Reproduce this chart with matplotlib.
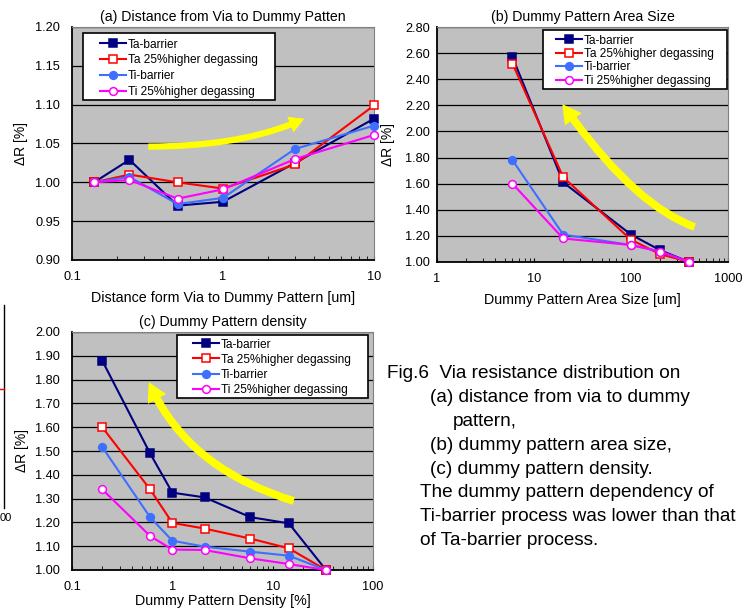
import numpy as np
import matplotlib
matplotlib.use('Agg')
import matplotlib.pyplot as plt
from matplotlib.patches import FancyArrowPatch, Rectangle
from matplotlib.lines import Line2D
from matplotlib.ticker import LogLocator, FixedLocator, NullFormatter

plt.rcParams['font.family'] = ['Liberation Sans', 'DejaVu Sans']

# ---------------------------------------------------------------- data
series_names = ['Ta-barrier', 'Ta 25%higher degassing', 'Ti-barrier', 'Ti 25%higher degassing']

# (a) distance from via to dummy pattern [um]
dist_x = [0.14, 0.24, 0.5, 1, 3, 10]
dist_ta = [1.000, 1.029, 0.970, 0.975, 1.025, 1.082]
dist_ta25 = [1.000, 1.010, 1.000, 0.992, 1.023, 1.099]
dist_ti = [1.000, 1.007, 0.972, 0.980, 1.043, 1.073]
dist_ti25 = [1.000, 1.003, 0.979, 0.991, 1.030, 1.061]

# (b) dummy pattern area size [um]
area_x = [6, 20, 100, 200, 400]
area_ta = [2.57, 1.61, 1.21, 1.09, 1.00]
area_ta25 = [2.52, 1.65, 1.17, 1.06, 1.00]
area_ti = [1.78, 1.21, 1.13, 1.08, 1.00]
area_ti25 = [1.60, 1.18, 1.13, 1.08, 1.00]

# (c) dummy pattern density [%]
dens_x = [0.2, 0.6, 1, 2.1, 6, 14.5, 34]
dens_ta = [1.88, 1.49, 1.325, 1.305, 1.222, 1.196, 1.00]
dens_ta25 = [1.60, 1.339, 1.198, 1.174, 1.132, 1.091, 1.00]
dens_ti = [1.517, 1.222, 1.123, 1.098, 1.077, 1.06, 1.00]
dens_ti25 = [1.339, 1.143, 1.086, 1.084, 1.049, 1.025, 1.00]

caption_lines = [
    'Fig.6  Via resistance distribution on',
    '(a) distance from via to dummy',
    'pattern,',
    '(b) dummy pattern area size,',
    '(c) dummy pattern density.',
    'The dummy pattern dependency of',
    'Ti-barrier process was lower than that',
    'of Ta-barrier process.',
]

# ---------------------------------------------------------------- styles
styles = [
    dict(color='#000080', marker='s', mfc='#000080', mec='#000080', ms=5.8),
    dict(color='#FF0000', marker='s', mfc='white', mec='#FF0000', ms=5.8),
    dict(color='#3F6FFF', marker='o', mfc='#3F6FFF', mec='#3F6FFF', ms=5.6),
    dict(color='#FF00FF', marker='o', mfc='white', mec='#FF00FF', ms=5.6),
]

W, H = 755, 614
fig = plt.figure(figsize=(W / 100, H / 100), dpi=100)


def px2ax(ax, x, y):
    # figure pixel (from top-left) -> axes fraction
    p = ax.get_position()
    return ((x / W - p.x0) / p.width, (1 - y / H - p.y0) / p.height)


def setup_axes(rect, xlim, ylim, yticks, title, xlabel, xticklabels,
               xlabelpad, ypad, ylabelpad):
    ax = fig.add_axes(rect)
    ax.set_facecolor('#C0C0C0')
    ax.set_xscale('log')
    ax.set_xlim(*xlim)
    ax.set_ylim(*ylim)
    ax.set_yticks(yticks)
    ax.set_yticklabels(['{:.2f}'.format(v) for v in yticks], fontsize=9.2)
    ax.xaxis.set_major_locator(FixedLocator([t for t, _ in xticklabels]))
    ax.set_xticklabels([l for _, l in xticklabels], fontsize=9.2)
    ax.xaxis.set_minor_locator(LogLocator(base=10, subs=np.arange(2, 10)))
    ax.xaxis.set_minor_formatter(NullFormatter())
    ax.tick_params(axis='x', which='both', direction='in', length=3, pad=8)
    ax.tick_params(axis='y', which='major', length=0, pad=ypad)
    for y in yticks:
        ax.axhline(y, color='black', lw=0.9, zorder=1)
    for s in ['top', 'right']:
        ax.spines[s].set_color('#808080')
    for s in ['left', 'bottom']:
        ax.spines[s].set_color('black')
        ax.spines[s].set_linewidth(1.3)
    ax.set_title(title, fontsize=10.2, pad=4)
    ax.set_xlabel(xlabel, fontsize=10.3, labelpad=xlabelpad)
    ax.set_ylabel('ΔR [%]', fontsize=10, labelpad=ylabelpad)
    return ax


def plot_series(ax, x, ys, box, handle_xy, spacing):
    for name, y, st in zip(series_names, ys, styles):
        ax.plot(x, y, label=name, lw=1.5, mew=1.1, zorder=3,
                clip_on=False, **st)
    # white legend box with the reference's proportions
    x0, y0 = px2ax(ax, box[0], box[3])
    x1, y1 = px2ax(ax, box[1], box[2])
    ax.add_patch(Rectangle((x0, y0), x1 - x0, y1 - y0, transform=ax.transAxes,
                           facecolor='white', edgecolor='black', lw=1.2,
                           zorder=4, clip_on=False))
    leg = ax.legend(loc='upper left', bbox_to_anchor=px2ax(ax, *handle_xy),
                    fontsize=8.6, frameon=False, handlelength=2.2,
                    handletextpad=0.15, labelspacing=spacing,
                    borderpad=0, borderaxespad=0)
    leg.set_zorder(5)
    return leg


def yellow_arrow(ax, start, end, angle_a, angle_b, scale):
    arr = FancyArrowPatch(start, end, transform=ax.transData,
                          connectionstyle=f'angle3,angleA={angle_a},angleB={angle_b}',
                          arrowstyle='simple,head_width=2.0,head_length=1.8,tail_width=0.75',
                          mutation_scale=scale, color='#FFFF00', lw=0, zorder=2,
                          shrinkA=0, shrinkB=0)
    ax.add_patch(arr)


# (a)
ax_a = setup_axes([72 / W, 1 - 260 / H, 302 / W, 233 / H], (0.1, 10), (0.90, 1.20),
                  [0.90, 0.95, 1.00, 1.05, 1.10, 1.15, 1.20],
                  '(a) Distance from Via to Dummy Patten',
                  'Distance form Via to Dummy Pattern [um]',
                  [(0.1, '0.1'), (1, '1'), (10, '10')], 6, 8.5, 5.0)
plot_series(ax_a, dist_x, [dist_ta, dist_ta25, dist_ti, dist_ti25],
            (83, 275, 33, 100), (100, 38.5), 0.32)
yellow_arrow(ax_a, (0.32, 1.046), (3.45, 1.082), 0, 25, 6)

# (b)
ax_b = setup_axes([437 / W, 1 - 262 / H, 291 / W, 235 / H], (1, 1000), (1.00, 2.80),
                  [1.0, 1.2, 1.4, 1.6, 1.8, 2.0, 2.2, 2.4, 2.6, 2.8],
                  '(b) Dummy Pattern Area Size',
                  'Dummy Pattern Area Size [um]',
                  [(1, '1'), (10, '10'), (100, '100'), (1000, '1000')], 6, 5, 7)
plot_series(ax_b, area_x, [area_ta, area_ta25, area_ti, area_ti25],
            (543, 727, 30, 89), (556, 34.5), 0.12)
yellow_arrow(ax_b, (453, 1.268), (19.6, 2.21), 160, 125, 7.5)

# (c)
ax_c = setup_axes([72 / W, 1 - 570 / H, 301 / W, 238 / H], (0.1, 100), (1.00, 2.00),
                  [1.0, 1.1, 1.2, 1.3, 1.4, 1.5, 1.6, 1.7, 1.8, 1.9, 2.0],
                  '(c) Dummy Pattern density',
                  'Dummy Pattern Density [%]',
                  [(0.1, '0.1'), (1, '1'), (10, '10'), (100, '100')], 1, 8.5, 4.3)
plot_series(ax_c, dens_x, [dens_ta, dens_ta25, dens_ti, dens_ti25],
            (177, 368, 335, 398), (193, 338.5), 0.26)
yellow_arrow(ax_c, (16.2, 1.29), (0.585, 1.79), 163, 113, 7.5)

# remnant of a neighbouring figure at the left edge
fig.add_artist(Line2D([4 / W, 4 / W], [1 - 305 / H, 1 - 508 / H],
                      color='black', lw=1.0))
fig.add_artist(Line2D([0, 4 / W], [1 - 389 / H, 1 - 389 / H],
                      color='red', lw=1.0))
fig.text(0.0, 1 - 518 / H, '00', fontsize=8, va='center', ha='left')

# caption
cap_x = [387, 430, 453, 430, 430, 420, 420, 420]
cap_y = [378, 402, 426, 450, 474, 497, 521, 545]
for txt, x, y in zip(caption_lines, cap_x, cap_y):
    fig.text(x / W, 1 - y / H, txt, fontsize=13.7, ha='left', va='baseline')

fig.savefig('out.png', dpi=100)
